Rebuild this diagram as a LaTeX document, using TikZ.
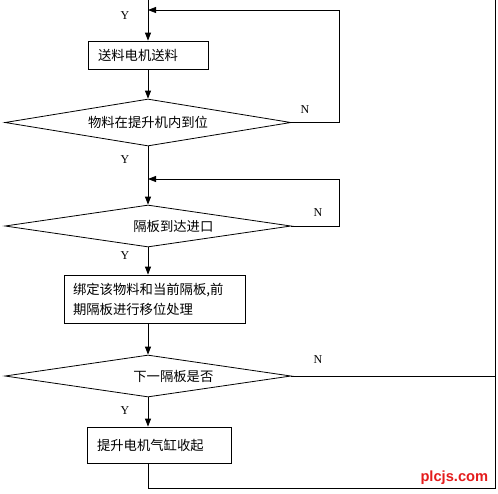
\documentclass[tikz,border=0pt]{standalone}
\usepackage{fontspec}
\setmainfont{Liberation Serif}
\newfontfamily\cjk{Noto Sans CJK SC}
\newfontfamily\wmfont{Liberation Sans}
\usetikzlibrary{arrows.meta,shapes.geometric}
\definecolor{wmred}{RGB}{228,28,28}

\begin{document}
\begin{tikzpicture}[
  x=0.75pt, y=-0.75pt,
  line width=0.6pt,
  >={Triangle[length=6pt,width=4.5pt]},
  procbox/.style={draw, align=left, inner xsep=7.5pt, inner ysep=0pt, font=\cjk\fontsize{10}{15}\selectfont},
  decision/.style={draw, diamond, inner sep=0pt, minimum width=214.5pt},
  dtext/.style={font=\cjk\fontsize{10}{12}\selectfont},
  yn/.style={font=\fontsize{9}{10}\selectfont},
  arrow/.style={->}
]
\useasboundingbox (0,0) rectangle (498,493);

\coordinate (top) at (148,0);
\coordinate (rtop) at (495,0);
\coordinate (j1) at (148,10);
\coordinate (j2) at (148,179);
\coordinate (corner) at (495,488);

\node[procbox, text width=75pt, minimum height=21pt] (feed) at (148,55) {送料电机送料};
\node[decision, minimum height=35.25pt, label={[dtext]center:物料在提升机内到位}] (inlift) at (148,122.5) {};
\node[decision, minimum height=31.5pt, label={[dtext, xshift=19pt]center:隔板到达进口}] (inlet) at (148,226) {};
\node[procbox, text width=122.25pt, inner xsep=6.75pt, minimum height=36pt] (bind) at (154.5,299) {绑定该物料和当前隔板,前\\期隔板进行移位处理};
\node[decision, minimum height=31.5pt, label={[dtext, xshift=19pt]center:下一隔板是否}] (next) at (148,376) {};
\node[procbox, text width=93pt, minimum height=27pt] (retract) at (159,445) {提升电机气缸收起};

% main flow
\draw[arrow] (top) -- (feed);
\draw[arrow] (feed) -- (inlift);
\draw[arrow] (inlift) -- (inlet);
\draw[arrow] (inlet.south) -- (inlet.south |- bind.north);
\draw[arrow] (bind.south -| next.north) -- (next.north);
\draw[arrow] (next.south) -- (next.south |- retract.north);

% loops back
\draw[arrow] (inlift.east) -- ++(48,0) |- (j1);
\draw[arrow] (inlet.east) -- ++(48,0) |- (j2);
\draw (retract.south -| next.south) |- (corner) -- (rtop);
\draw (next.east) -- (next.east -| corner);

\node[yn] (y1) at (125,16) {Y};
\node[yn] (y2) at (125,160) {Y};
\node[yn] (y3) at (125,256) {Y};
\node[yn] (y4) at (125,411) {Y};
\node[yn] (n1) at (305,110) {N};
\node[yn] (n2) at (318,213) {N};
\node[yn] (n3) at (318,360) {N};

\node[font=\wmfont\bfseries\fontsize{11}{12}\selectfont, text=wmred, anchor=east] (mark) at (493,478) {plcjs.com};
\end{tikzpicture}
\end{document}
